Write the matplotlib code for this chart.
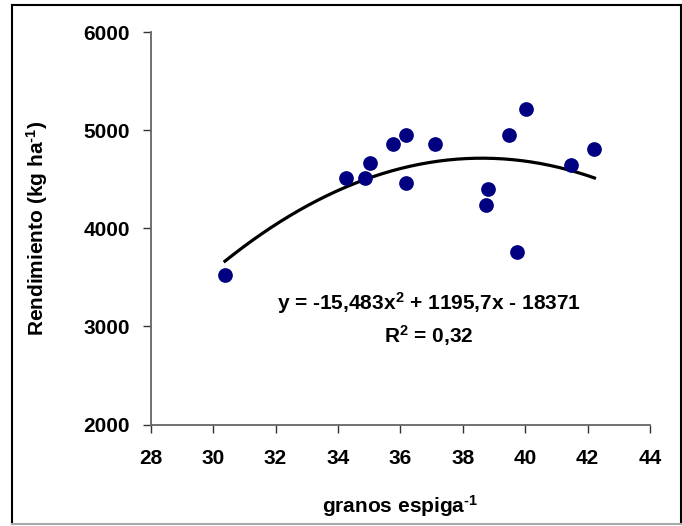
import numpy as np
import matplotlib
matplotlib.use("Agg")
import matplotlib.pyplot as plt
from matplotlib.lines import Line2D

# Data
granos = [30.38, 34.27, 34.87, 35.02, 35.78, 36.18, 36.18, 37.11,
          38.74, 38.81, 39.49, 39.74, 40.03, 41.46, 42.22]
rendimiento = [3520, 4514, 4514, 4660, 4863, 4955, 4460, 4863,
               4239, 4402, 4955, 3758, 5213, 4646, 4806]
coef = [-15.483, 1195.7, -18371]
eq_text = "y = -15,483x$^{\\mathregular{2}}$ + 1195,7x - 18371"
r2_text = "R$^{\\mathregular{2}}$ = 0,32"
xticks = [28, 30, 32, 34, 36, 38, 40, 42, 44]
yticks = [2000, 3000, 4000, 5000, 6000]

plt.rcParams['font.family'] = ['Liberation Sans', 'DejaVu Sans']
plt.rcParams['font.weight'] = 'bold'
plt.rcParams['mathtext.fontset'] = 'custom'
plt.rcParams['mathtext.rm'] = 'Liberation Sans:bold'
plt.rcParams['mathtext.default'] = 'rm'

FS = 15
W, H = 682, 526
fig = plt.figure(figsize=(W/100, H/100), dpi=100)
x0, x1, y0, y1 = 150.7, 650, 32, 424.5
ax = fig.add_axes([x0/W, 1-y1/H, (x1-x0)/W, (y1-y0)/H])

xs = np.linspace(min(granos), max(granos), 200)
ys = np.polyval(coef, xs)
ax.plot(xs, ys, color='black', lw=2.3, zorder=2)
ax.scatter(granos, rendimiento, s=112, color='#000080', zorder=3, linewidths=0)

ax.set_xlim(28, 44)
ax.set_ylim(2000, 6000)
ax.set_xticks(xticks)
ax.set_yticks(yticks)
ax.spines['top'].set_visible(False)
ax.spines['right'].set_visible(False)
for s in ['left', 'bottom']:
    ax.spines[s].set_color('#666666')
    ax.spines[s].set_linewidth(1.3)
ax.tick_params(axis='both', direction='out', length=6, width=1.0, color='#333333',
               labelsize=FS)
ax.tick_params(axis='x', pad=12)
ax.tick_params(axis='y', pad=9)
for lab in ax.get_xticklabels() + ax.get_yticklabels():
    lab.set_fontweight('bold')

ax.set_xlabel("granos espiga$^{\\mathregular{\u2010}\\mathregular{1}}$", fontsize=FS,
              fontweight='bold', labelpad=18)
ax.set_ylabel("Rendimiento (kg ha$^{\\mathregular{\u2010}\\mathregular{1}}$)", fontsize=FS,
              fontweight='bold', labelpad=24)

# equation annotation (centred at pixel x ~429)
xc = 28 + (429 - x0) / (x1 - x0) * 16
ax.text(xc, 3240, eq_text, ha='center', va='center', fontsize=FS, fontweight='bold')
ax.text(xc, 2905, r2_text, ha='center', va='center', fontsize=FS, fontweight='bold')

# figure border
l, r, t, b = 12/W, 680.5/W, 1-5/H, 1-524/H
fig.add_artist(Line2D([l, l], [b, t], transform=fig.transFigure, color='black', lw=1.5))
fig.add_artist(Line2D([l, r], [t, t], transform=fig.transFigure, color='black', lw=1.5))
fig.add_artist(Line2D([r, r], [b, t], transform=fig.transFigure, color='black', lw=1.5))
fig.add_artist(Line2D([l, r], [b, b], transform=fig.transFigure, color='#aaaaaa', lw=1.5))

fig.savefig("out.png", dpi=100)
